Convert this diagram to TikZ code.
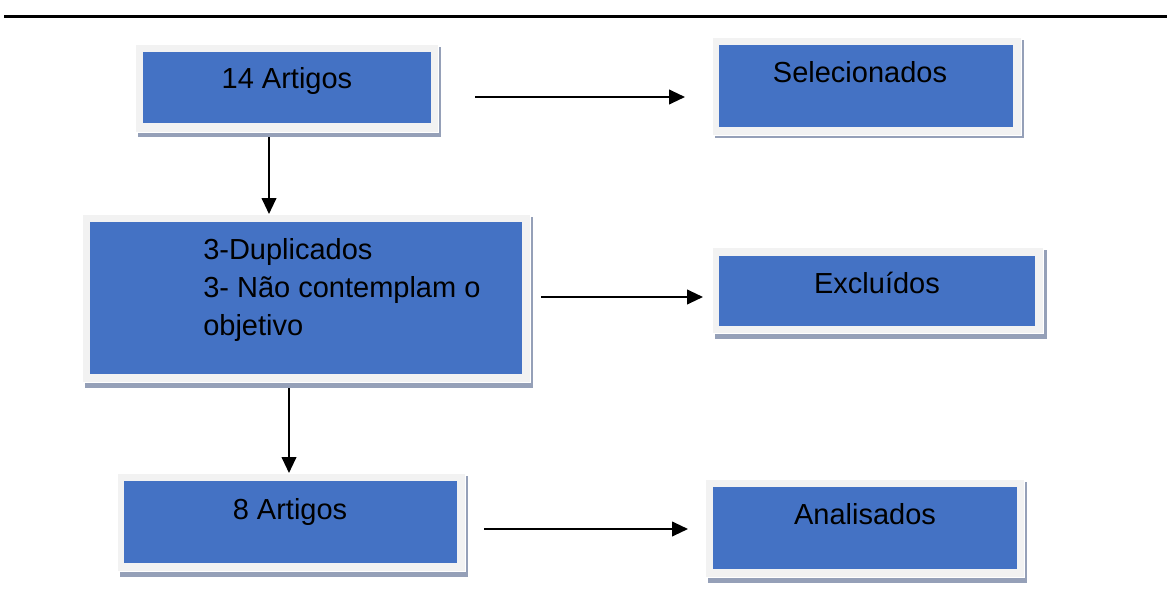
\documentclass[tikz,border=0pt]{standalone}
\usepackage{fontspec}
\setmainfont{Liberation Sans}
\usetikzlibrary{arrows.meta}
\definecolor{boxblue}{HTML}{4472C4}
\definecolor{framegray}{HTML}{F2F2F2}
\definecolor{shadowgray}{HTML}{95A0B8}
\begin{document}
\begin{tikzpicture}[x=0.75pt,y=-0.75pt,
  shadowfill/.style={fill=shadowgray},
  framefill/.style={fill=framegray, draw=white, line width=0.6pt},
  bluefill/.style={fill=boxblue},
  lbl/.style={inner sep=0pt, anchor=base, font=\fontsize{21.75}{28.5}\selectfont, text=black},
  lblleft/.style={lbl, anchor=base west},
  conn/.style={-{Triangle[length=12pt,width=11pt]}, line width=1.5pt},
  rulestyle/.style={line width=1.6pt}]
\useasboundingbox (0,0) rectangle (1167,592);

% top rule
\coordinate (ruleL) at (4,16.5);
\coordinate (ruleR) at (1167,16.5);
\draw[rulestyle] (ruleL) -- (ruleR);

% box 1: 14 Artigos
\fill[shadowfill] (138,47) rectangle (441,137);
\filldraw[framefill] (135,44) rectangle (438,132);
\fill[bluefill] (143,52) rectangle (431,123);
\node[lbl] (t1) at (287,89) {14 Artigos};

% box 2: Selecionados
\fill[shadowfill] (715,40) rectangle (1024,138);
\filldraw[framefill] (712,37) rectangle (1021,135);
\fill[bluefill] (719,45) rectangle (1013,127);
\node[lbl] (t2) at (860,83) {Selecionados};

% box 3: Duplicados
\fill[shadowfill] (85,217) rectangle (533,388);
\filldraw[framefill] (82,214) rectangle (530,382);
\fill[bluefill] (90,222) rectangle (522,374);
\node[lblleft] (t3a) at (203,259) {3-Duplicados};
\node[lblleft] (t3b) at (203,297) {3- Não contemplam o};
\node[lblleft] (t3c) at (203,335) {objetivo};

% box 4: Excluidos
\fill[shadowfill] (715,250) rectangle (1047,339);
\filldraw[framefill] (712,247) rectangle (1043,333);
\fill[bluefill] (719,256) rectangle (1035,326);
\node[lbl] (t4) at (877,293) {Excluídos};

% box 5: 8 Artigos
\fill[shadowfill] (120,476) rectangle (468,577);
\filldraw[framefill] (117,473) rectangle (465,571);
\fill[bluefill] (124,481) rectangle (457,563);
\node[lbl] (t5) at (290,519) {8 Artigos};

% box 6: Analisados
\fill[shadowfill] (708,482) rectangle (1027,583);
\filldraw[framefill] (705,479) rectangle (1024,577);
\fill[bluefill] (713,487) rectangle (1017,569);
\node[lbl] (t6) at (865,524) {Analisados};

% connector ends
\coordinate (a1s) at (475,97);
\coordinate (a1e) at (685,97);
\coordinate (a2s) at (269,137);
\coordinate (a2e) at (269,214);
\coordinate (a3s) at (541,297);
\coordinate (a3e) at (703,297);
\coordinate (a4s) at (289,388);
\coordinate (a4e) at (289,473);
\coordinate (a5s) at (484,529);
\coordinate (a5e) at (688,529);

\draw[conn] (a1s) -- (a1e);
\draw[conn] (a2s) -- (a2e);
\draw[conn] (a3s) -- (a3e);
\draw[conn] (a4s) -- (a4e);
\draw[conn] (a5s) -- (a5e);
\end{tikzpicture}
\end{document}
